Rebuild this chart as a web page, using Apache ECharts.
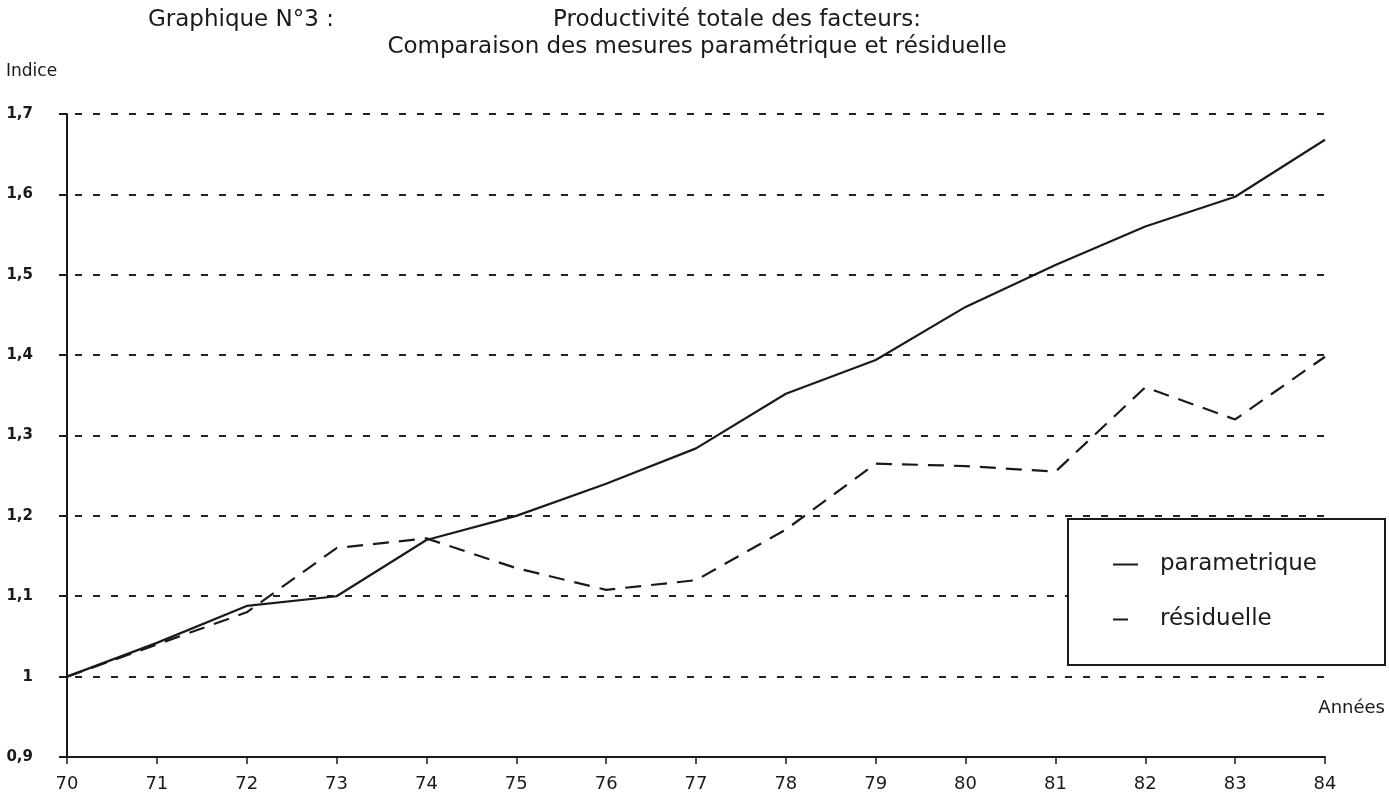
<!DOCTYPE html>
<html>
<head>
<meta charset="utf-8">
<script src="https://cdn.jsdelivr.net/npm/echarts@6/dist/echarts.min.js"></script>
<style>
html,body{margin:0;padding:0;background:#fff;}
#chart{width:1389px;height:800px;}
</style>
</head>
<body>
<div id="chart"></div>
<script>
const years = ['70','71','72','73','74','75','76','77','78','79','80','81','82','83','84'];
const parametrique = [1.00, 1.042, 1.088, 1.10, 1.17, 1.20, 1.24, 1.284, 1.352, 1.394, 1.46, 1.512, 1.56, 1.597, 1.668];
const residuelle = [1.00, 1.04, 1.08, 1.16, 1.172, 1.135, 1.108, 1.12, 1.183, 1.265, 1.262, 1.255, 1.36, 1.32, 1.398];
const seriesNames = ['parametrique', 'résiduelle'];
const titleLabel = 'Graphique N°3 :';
const titleLine1 = 'Productivité totale des facteurs:';
const titleLine2 = 'Comparaison des mesures paramétrique et résiduelle';
const yName = 'Indice';
const xName = 'Années';

const FONT = 'DejaVu Sans';
const INK = '#1a1a1a';
const chart = echarts.init(document.getElementById('chart'));
chart.setOption({
  backgroundColor: '#fff',
  animation: false,
  textStyle: { fontFamily: FONT, color: INK },
  title: [
    { text: titleLabel, left: 148, top: 9, padding: 0, textStyle: { fontFamily: FONT, fontSize: 23, fontWeight: 'normal', color: INK } },
    { text: titleLine1, left: 737, top: 9, padding: 0, textAlign: 'center', textStyle: { fontFamily: FONT, fontSize: 23, fontWeight: 'normal', color: INK } },
    { text: titleLine2, left: 697, top: 36, padding: 0, textAlign: 'center', textStyle: { fontFamily: FONT, fontSize: 23, fontWeight: 'normal', color: INK } },
    { text: yName, left: 6, top: 63, padding: 0, textStyle: { fontFamily: FONT, fontSize: 17, fontWeight: 'normal', color: INK } }
  ],
  legend: {
    orient: 'vertical',
    left: 1068,
    top: 519,
    padding: [34, 10, 34, 45],
    itemGap: 32,
    itemWidth: 25,
    itemHeight: 20,
    backgroundColor: '#fff',
    borderColor: INK,
    borderWidth: 2,
    borderRadius: 0,
    textStyle: { fontFamily: FONT, fontSize: 23, color: INK, lineHeight: 20, width: 215, padding: [0, 0, 0, 17] },
    data: [
      { name: seriesNames[0], icon: 'path://M0,9L25,9L25,11L0,11Z', itemStyle: { color: INK } },
      { name: seriesNames[1], icon: 'path://M0,9L15,9L15,11L0,11Z M24.9,9L25,9L25,9.1Z', itemStyle: { color: INK } }
    ]
  },
  grid: { left: 67, right: 64, top: 114, bottom: 43, containLabel: false },
  xAxis: {
    type: 'category',
    data: years,
    boundaryGap: false,
    name: xName,
    nameLocation: 'end',
    nameGap: 60,
    nameTextStyle: { fontFamily: FONT, fontSize: 18, color: INK, align: 'right', verticalAlign: 'bottom', padding: [0, 0, 40, 0] },
    axisLine: { lineStyle: { color: INK, width: 2 } },
    axisTick: { show: true, length: 7, lineStyle: { color: INK, width: 1.5 } },
    axisLabel: { fontFamily: FONT, fontSize: 18, color: INK, margin: 18 },
    splitLine: { show: false }
  },
  yAxis: {
    type: 'value',
    min: 0.9,
    max: 1.7,
    interval: 0.1,
    axisLine: { show: true, lineStyle: { color: INK, width: 2 } },
    axisTick: { show: true, length: 8, lineStyle: { color: INK, width: 2 } },
    axisLabel: {
      fontFamily: FONT, fontSize: 15, fontWeight: 'bold', color: INK, margin: 34,
      formatter: v => String(Math.round(v * 10) / 10).replace('.', ',')
    },
    splitLine: { show: true, lineStyle: { color: '#222', width: 2, type: [7, 11], dashOffset: -8 } }
  },
  series: [
    {
      name: seriesNames[0], type: 'line', data: parametrique, symbol: 'none',
      lineStyle: { color: INK, width: 2.2, type: 'solid' }, itemStyle: { color: INK }, z: 3
    },
    {
      name: seriesNames[1], type: 'line', data: residuelle, symbol: 'none',
      lineStyle: { color: INK, width: 2.2, type: [16, 10] }, itemStyle: { color: INK }, z: 3
    }
  ]
});
</script>
</body>
</html>
